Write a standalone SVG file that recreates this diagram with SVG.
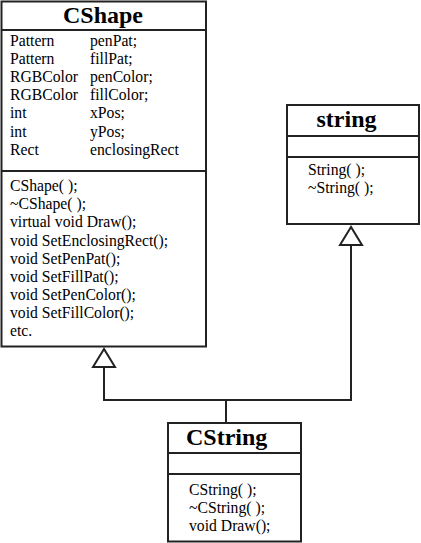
<svg xmlns="http://www.w3.org/2000/svg" width="421" height="543" viewBox="0 0 421 543">
<style>
.box{fill:#fff;stroke:#222;stroke-width:2}
.sep{stroke:#222;stroke-width:2}
.title{font-family:"Liberation Serif","Times New Roman",serif;font-weight:bold;font-size:24px;fill:#000}
.t{font-family:"Liberation Serif","Times New Roman",serif;font-size:15.7px;fill:#000}
.line{fill:none;stroke:#222;stroke-width:2}
.tri{fill:#fff;stroke:#222;stroke-width:2;stroke-linejoin:miter}
</style>
<rect width="421" height="543" fill="#fff"/>
<g id="connectors">
<path class="line" d="M226,423 V400 M104,367 V400 H351 V245"/>
<polygon class="tri" points="104,349 93,367 115,367"/>
<polygon class="tri" points="351,227 340,245 362,245"/>
</g>
<g id="CShape">
<rect class="box" x="1.5" y="1.5" width="204.5" height="345"/>
<line class="sep" x1="1.5" y1="30" x2="206" y2="30"/>
<line class="sep" x1="1.5" y1="171" x2="206" y2="171"/>
<text class="title" x="103" y="23" text-anchor="middle">CShape</text>
<g class="t">
<text x="10" y="46">Pattern</text><text x="90" y="46">penPat;</text>
<text x="10" y="64">Pattern</text><text x="90" y="64">fillPat;</text>
<text x="10" y="82">RGBColor</text><text x="90" y="82">penColor;</text>
<text x="10" y="100">RGBColor</text><text x="90" y="100">fillColor;</text>
<text x="10" y="118">int</text><text x="90" y="118">xPos;</text>
<text x="10" y="136.5">int</text><text x="90" y="136.5">yPos;</text>
<text x="10" y="155">Rect</text><text x="90" y="155">enclosingRect</text>
<text x="10" y="191">CShape( );</text>
<text x="10" y="209">~CShape( );</text>
<text x="10" y="227">virtual void Draw();</text>
<text x="10" y="245.5">void SetEnclosingRect();</text>
<text x="10" y="264">void SetPenPat();</text>
<text x="10" y="282">void SetFillPat();</text>
<text x="10" y="300">void SetPenColor();</text>
<text x="10" y="318">void SetFillColor();</text>
<text x="10" y="336">etc.</text>
</g>
</g>
<g id="string">
<rect class="box" x="287" y="105" width="132" height="119"/>
<line class="sep" x1="287" y1="136" x2="419" y2="136"/>
<line class="sep" x1="287" y1="157" x2="419" y2="157"/>
<text class="title" x="346.5" y="127" text-anchor="middle">string</text>
<text class="t" x="308" y="175">String( );</text>
<text class="t" x="308" y="192.5">~String( );</text>
</g>
<g id="CString">
<rect class="box" x="168" y="423" width="133" height="118.5"/>
<line class="sep" x1="168" y1="453" x2="301" y2="453"/>
<line class="sep" x1="168" y1="474" x2="301" y2="474"/>
<text class="title" x="186" y="445">CString</text>
<text class="t" x="189" y="495">CString( );</text>
<text class="t" x="189" y="513">~CString( );</text>
<text class="t" x="189" y="531">void Draw();</text>
</g>
</svg>
